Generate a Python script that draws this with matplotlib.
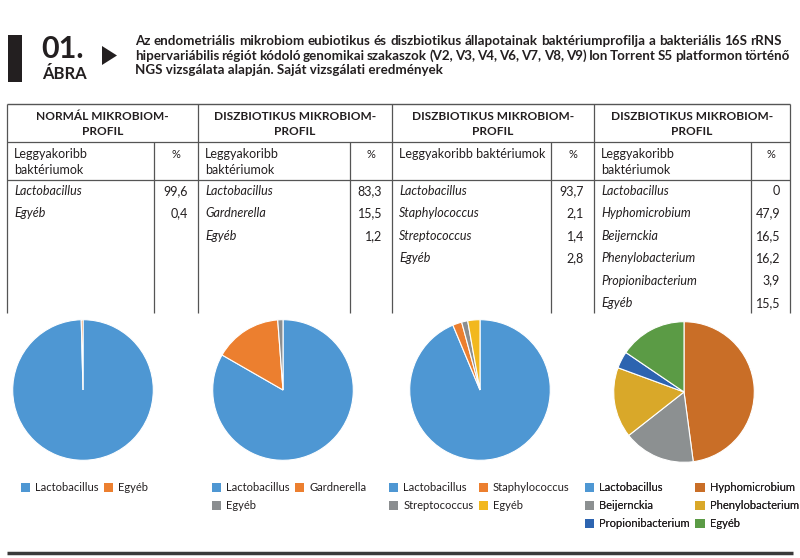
import matplotlib as mpl
mpl.use('Agg')
import matplotlib.pyplot as plt
from matplotlib.patches import Rectangle, Polygon

plt.rcParams['font.family'] = ['Lato', 'DejaVu Sans']

# ---- data ----
headers = ['NORMÁL MIKROBIOM-\nPROFIL', 'DISZBIOTIKUS MIKROBIOM-\nPROFIL',
           'DISZBIOTIKUS MIKROBIOM-\nPROFIL', 'DISZBIOTIKUS MIKROBIOM-\nPROFIL']
subheads = ['Leggyakoribb\nbaktériumok', 'Leggyakoribb\nbaktériumok',
            'Leggyakoribb baktériumok', 'Leggyakoribb\nbaktériumok']

names1 = ['Lactobacillus', 'Egyéb']
vals1 = [99.6, 0.4]
names2 = ['Lactobacillus', 'Gardnerella', 'Egyéb']
vals2 = [83.3, 15.5, 1.2]
names3 = ['Lactobacillus', 'Staphylococcus', 'Streptococcus', 'Egyéb']
vals3 = [93.7, 2.1, 1.4, 2.8]
names4 = ['Lactobacillus', 'Hyphomicrobium', 'Beijernckia', 'Phenylobacterium',
          'Propionibacterium', 'Egyéb']
vals4 = [0, 47.9, 16.5, 16.2, 3.9, 15.5]

colors1 = ['#4e97d3', '#ec7f2f']
colors2 = ['#4e97d3', '#ec7f2f', '#8b8e90']
colors3 = ['#4e97d3', '#ec7f2f', '#8b8e90', '#f2b81e']
colors4 = ['#4e97d3', '#c96e27', '#8c9091', '#d9a829', '#2d64b0', '#5b9b45']

title_lines = [
    'Az endometriális mikrobiom eubiotikus és diszbiotikus állapotainak baktériumprofilja a bakteriális 16S rRNS',
    'hipervariábilis régiót kódoló genomikai szakaszok (V2, V3, V4, V6, V7, V8, V9) Ion Torrent S5 platformon történő',
    'NGS vizsgálata alapján. Saját vizsgálati eredmények',
]

names = [names1, names2, names3, names4]
vals = [vals1, vals2, vals3, vals4]
colors = [colors1, colors2, colors3, colors4]

# ---- layout (pixels) ----
W, H = 800, 558
ink = '#231f20'
col_left = [7, 198, 392, 594]
col_right = [198, 392, 594, 790]
col_div = [154, 350, 551, 751]
pie_c = [(83, 390), (283, 390), (480, 390), (684, 392)]
pie_r = 71
leg_xy = [(21, 482), (212, 482), (389, 482), (585, 482)]

fig = plt.figure(figsize=(W / 100, H / 100), dpi=100)
ax = fig.add_axes([0, 0, 1, 1])
ax.set_xlim(0, W)
ax.set_ylim(H, 0)
ax.axis('off')

# header block
ax.add_patch(Rectangle((8, 35), 14, 47, color=ink, lw=0))
ax.text(41, 58, '01.', fontsize=22, fontweight='bold', color=ink, va='baseline')
ax.text(42, 79, 'ÁBRA', fontsize=12, fontweight='bold', color=ink, va='baseline')
ax.add_patch(Polygon([(102, 46), (102, 65), (117, 55.5)], closed=True, color=ink, lw=0))

renderer = fig.canvas.get_renderer()


def justify(words, x0, x1, y, **kw):
    texts = [ax.text(0, y, w, va='baseline', **kw) for w in words]
    widths = [t.get_window_extent(renderer).width for t in texts]
    gap = (x1 - x0 - sum(widths)) / (len(words) - 1)
    x = x0
    for t, w in zip(texts, widths):
        t.set_x(x)
        x += w + gap


tkw = dict(fontsize=9.6, fontweight='bold', color=ink)
justify(title_lines[0].split(), 135, 782, 45, **tkw)
justify(title_lines[1].split(), 135, 790, 59.5, **tkw)
ax.text(135, 74, title_lines[2], va='baseline', **tkw)

# table lines
ax.hlines(104, 7, 790, color='#555555', lw=1.0)
ax.hlines([142, 180], 7, 790, color='#555555', lw=0.9)
ax.vlines(col_left + [790], 104, 313, color='#555555', lw=0.9)
ax.vlines(col_div, 142, 313, color='#555555', lw=0.9)

for i in range(4):
    cx = (col_left[i] + col_right[i]) / 2
    l1, l2 = headers[i].split('\n')
    ax.text(cx, 120, l1, ha='center', va='baseline', fontsize=8.6,
            fontweight='bold', color=ink)
    ax.text(cx, 135, l2, ha='center', va='baseline', fontsize=8.6,
            fontweight='bold', color=ink)
    for j, s in enumerate(subheads[i].split('\n')):
        ax.text(col_left[i] + 7, 158 + 16 * j, s, va='baseline', fontsize=9, color=ink)
    ax.text((col_div[i] + col_right[i]) / 2, 158, '%', ha='center', va='baseline',
            fontsize=8, color=ink)
    for j, (n, v) in enumerate(zip(names[i], vals[i])):
        y = 195 + 22.4 * j
        ax.text(col_left[i] + 7, y, n, va='baseline', fontsize=9, style='italic', color=ink)
        s = '0' if v == 0 else f'{v:.1f}'.replace('.', ',')
        ax.text(col_right[i] - 10, y, s, ha='right', va='baseline', fontsize=9, color=ink)

# pies + legends
for i in range(4):
    cx, cy = pie_c[i]
    pax = fig.add_axes([(cx - pie_r) / W, 1 - (cy + pie_r) / H, 2 * pie_r / W, 2 * pie_r / H])
    wedges, _ = pax.pie(vals[i], colors=colors[i], startangle=90, counterclock=False,
                        wedgeprops=dict(edgecolor='white', linewidth=0.8))
    pax.set_xlim(-1.01, 1.01)
    pax.set_ylim(-1.01, 1.01)
    pax.set_aspect('equal')
    # row-major order for a 2-column legend
    n = len(wedges)
    order = list(range(0, n, 2)) + list(range(1, n, 2))
    handles = [Rectangle((0, 0), 1, 1, color=colors[i][k], lw=0) for k in order]
    leg = ax.legend(handles, [names[i][k] for k in order],
                    ncol=2, loc='upper left', bbox_to_anchor=leg_xy[i],
                    bbox_transform=ax.transData, frameon=False, fontsize=8,
                    handlelength=0.85, handleheight=0.85, handletextpad=0.45,
                    columnspacing=0.45, labelspacing=0.65, borderpad=0,
                    borderaxespad=0)
    for t in leg.get_texts():
        t.set_color(ink)
    ax.add_artist(leg)

ax.hlines(553, 7, 793, color='#3a3a3a', lw=2.5)

fig.savefig('out.png', dpi=100)
